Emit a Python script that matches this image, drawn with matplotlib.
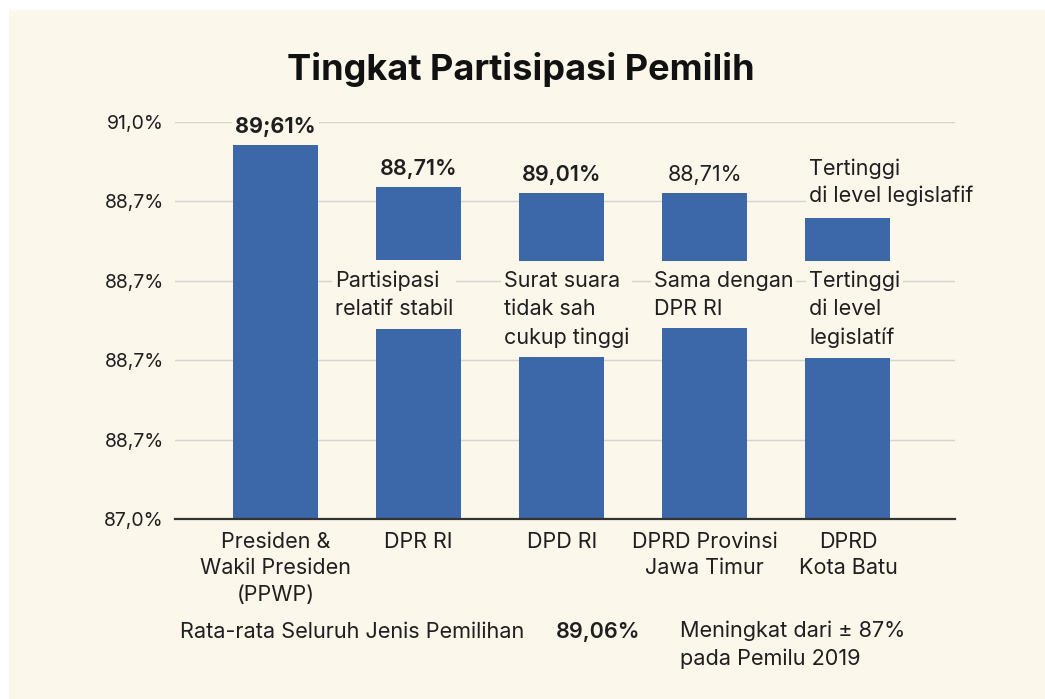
import matplotlib
matplotlib.use("Agg")
import matplotlib.pyplot as plt
from matplotlib.patches import Rectangle

plt.rcParams['font.family'] = ['Inter', 'DejaVu Sans']

# ---------------- data ----------------
categories = ["Presiden &\nWakil Presiden\n(PPWP)", "DPR RI", "DPD RI",
              "DPRD Provinsi\nJawa Timur", "DPRD\nKota Batu"]
bar_top = [90.77, 90.35, 90.28, 90.28, 90.03]        # top of each bar
gap_top = [None, 89.61, 89.60, 89.60, 89.60]          # upper edge of the break
gap_bottom = [None, 88.91, 88.63, 88.92, 88.62]       # lower edge of the break
value_labels = ["89;61%", "88,71%", "89,01%", "88,71%", None]
value_weights = ["bold", "semibold", "semibold", "normal", None]
gap_notes = [None, "Partisipasi\nrelatif stabil", "Surat suara\ntidak sah\ncukup tinggi",
             "Sama dengan\nDPR RI", "Tertinggi\ndi level\nlegislatíf"]
top_note = "Tertinggi\ndi level legislafif"
ytick_values = [87.0, 87.8, 88.6, 89.4, 90.2, 91.0]
ytick_labels = ["87,0%", "88,7%", "88,7%", "88,7%", "88,7%", "91,0%"]
title = "Tingkat Partisipasi Pemilih"
avg_label = "Rata-rata Seluruh Jenis Pemilihan"
avg_value = "89,06%"
avg_note = "Meningkat dari ± 87%\npada Pemilu 2019"

# ---------------- style ----------------
W, H = 1045, 699
CREAM = "#fcf7eb"
BLUE = "#3c67a9"
TXT = "#1f1f1f"

def fx(px):
    return px / W

def fy(py):
    return 1 - py / H

fig = plt.figure(figsize=(W / 100, H / 100), dpi=100, facecolor="white")
fig.patches.append(Rectangle((fx(9), 0), 1 - fx(9), fy(10), transform=fig.transFigure,
                             facecolor=CREAM, edgecolor="none", zorder=-10))

ax = fig.add_axes([fx(175), fy(519), fx(955) - fx(175), fy(122) - fy(519)])
ax.set_zorder(1)
ax.set_facecolor("none")
ax.set_xlim(-0.702, 4.748)
ax.set_ylim(ytick_values[0], ytick_values[-1])

width = 0.594
x = list(range(len(categories)))
for i in x:
    if gap_top[i] is None:
        ax.bar(i, bar_top[i] - ytick_values[0], bottom=ytick_values[0], width=width,
               color=BLUE, zorder=3)
    else:
        ax.bar(i, gap_bottom[i] - ytick_values[0], bottom=ytick_values[0], width=width,
               color=BLUE, zorder=3)
        ax.bar(i, bar_top[i] - gap_top[i], bottom=gap_top[i], width=width,
               color=BLUE, zorder=3)

# grid & axes
ax.yaxis.grid(True, color="#d6d3cc", linewidth=1.0, zorder=1)
ax.set_axisbelow(True)
for s in ["top", "right", "left"]:
    ax.spines[s].set_visible(False)
ax.spines["bottom"].set_color("#333333")
ax.spines["bottom"].set_linewidth(1.6)
ax.spines["bottom"].set_zorder(4)
ax.tick_params(axis="y", length=0, pad=8, labelsize=14, labelcolor=TXT)
ax.tick_params(axis="x", length=0, pad=9, labelsize=15.5, labelcolor=TXT)
ax.set_yticks(ytick_values)
ax.set_yticklabels(ytick_labels)
ax.set_xticks(x)
ax.set_xticklabels(categories)
for lab in ax.get_xticklabels():
    lab.set_linespacing(1.42)

bb = dict(facecolor=CREAM, edgecolor="none", pad=2)

# value labels above bars
for i in x:
    if value_labels[i]:
        ax.annotate(value_labels[i], (i, bar_top[i]), xytext=(0, 12),
                    textcoords="offset pixels", ha="center", va="baseline",
                    fontsize=15.5, fontweight=value_weights[i], color=TXT,
                    bbox=bb, zorder=5, annotation_clip=False)

# notes inside the breaks (y = baseline of the last line)
note_left_px = [None, 335, 504, 654, 809]
note_last_baseline_px = [None, 315, 344, 315, 344]
for i in x:
    if gap_notes[i]:
        fig.text(fx(note_left_px[i]), fy(note_last_baseline_px[i]), gap_notes[i],
                 ha="left", va="baseline", fontsize=15.5, color=TXT,
                 linespacing=1.5, bbox=bb, zorder=5)

fig.text(fx(809), fy(202), top_note, ha="left", va="baseline", fontsize=15.5,
         color=TXT, linespacing=1.4, bbox=bb, zorder=5)

# title
fig.text(fx(521), fy(80), title, ha="center", va="baseline", fontsize=26,
         fontweight="bold", color="#111111")

# footer
fig.text(fx(180), fy(638), avg_label, ha="left", va="baseline", fontsize=15.6, color=TXT)
fig.text(fx(556), fy(638), avg_value, ha="left", va="baseline", fontsize=15.6,
         fontweight="semibold", color=TXT)
fig.text(fx(680), fy(665), avg_note, ha="left", va="baseline", fontsize=15.6,
         color=TXT, linespacing=1.45)

fig.savefig("out.png", dpi=100, facecolor=fig.get_facecolor())
